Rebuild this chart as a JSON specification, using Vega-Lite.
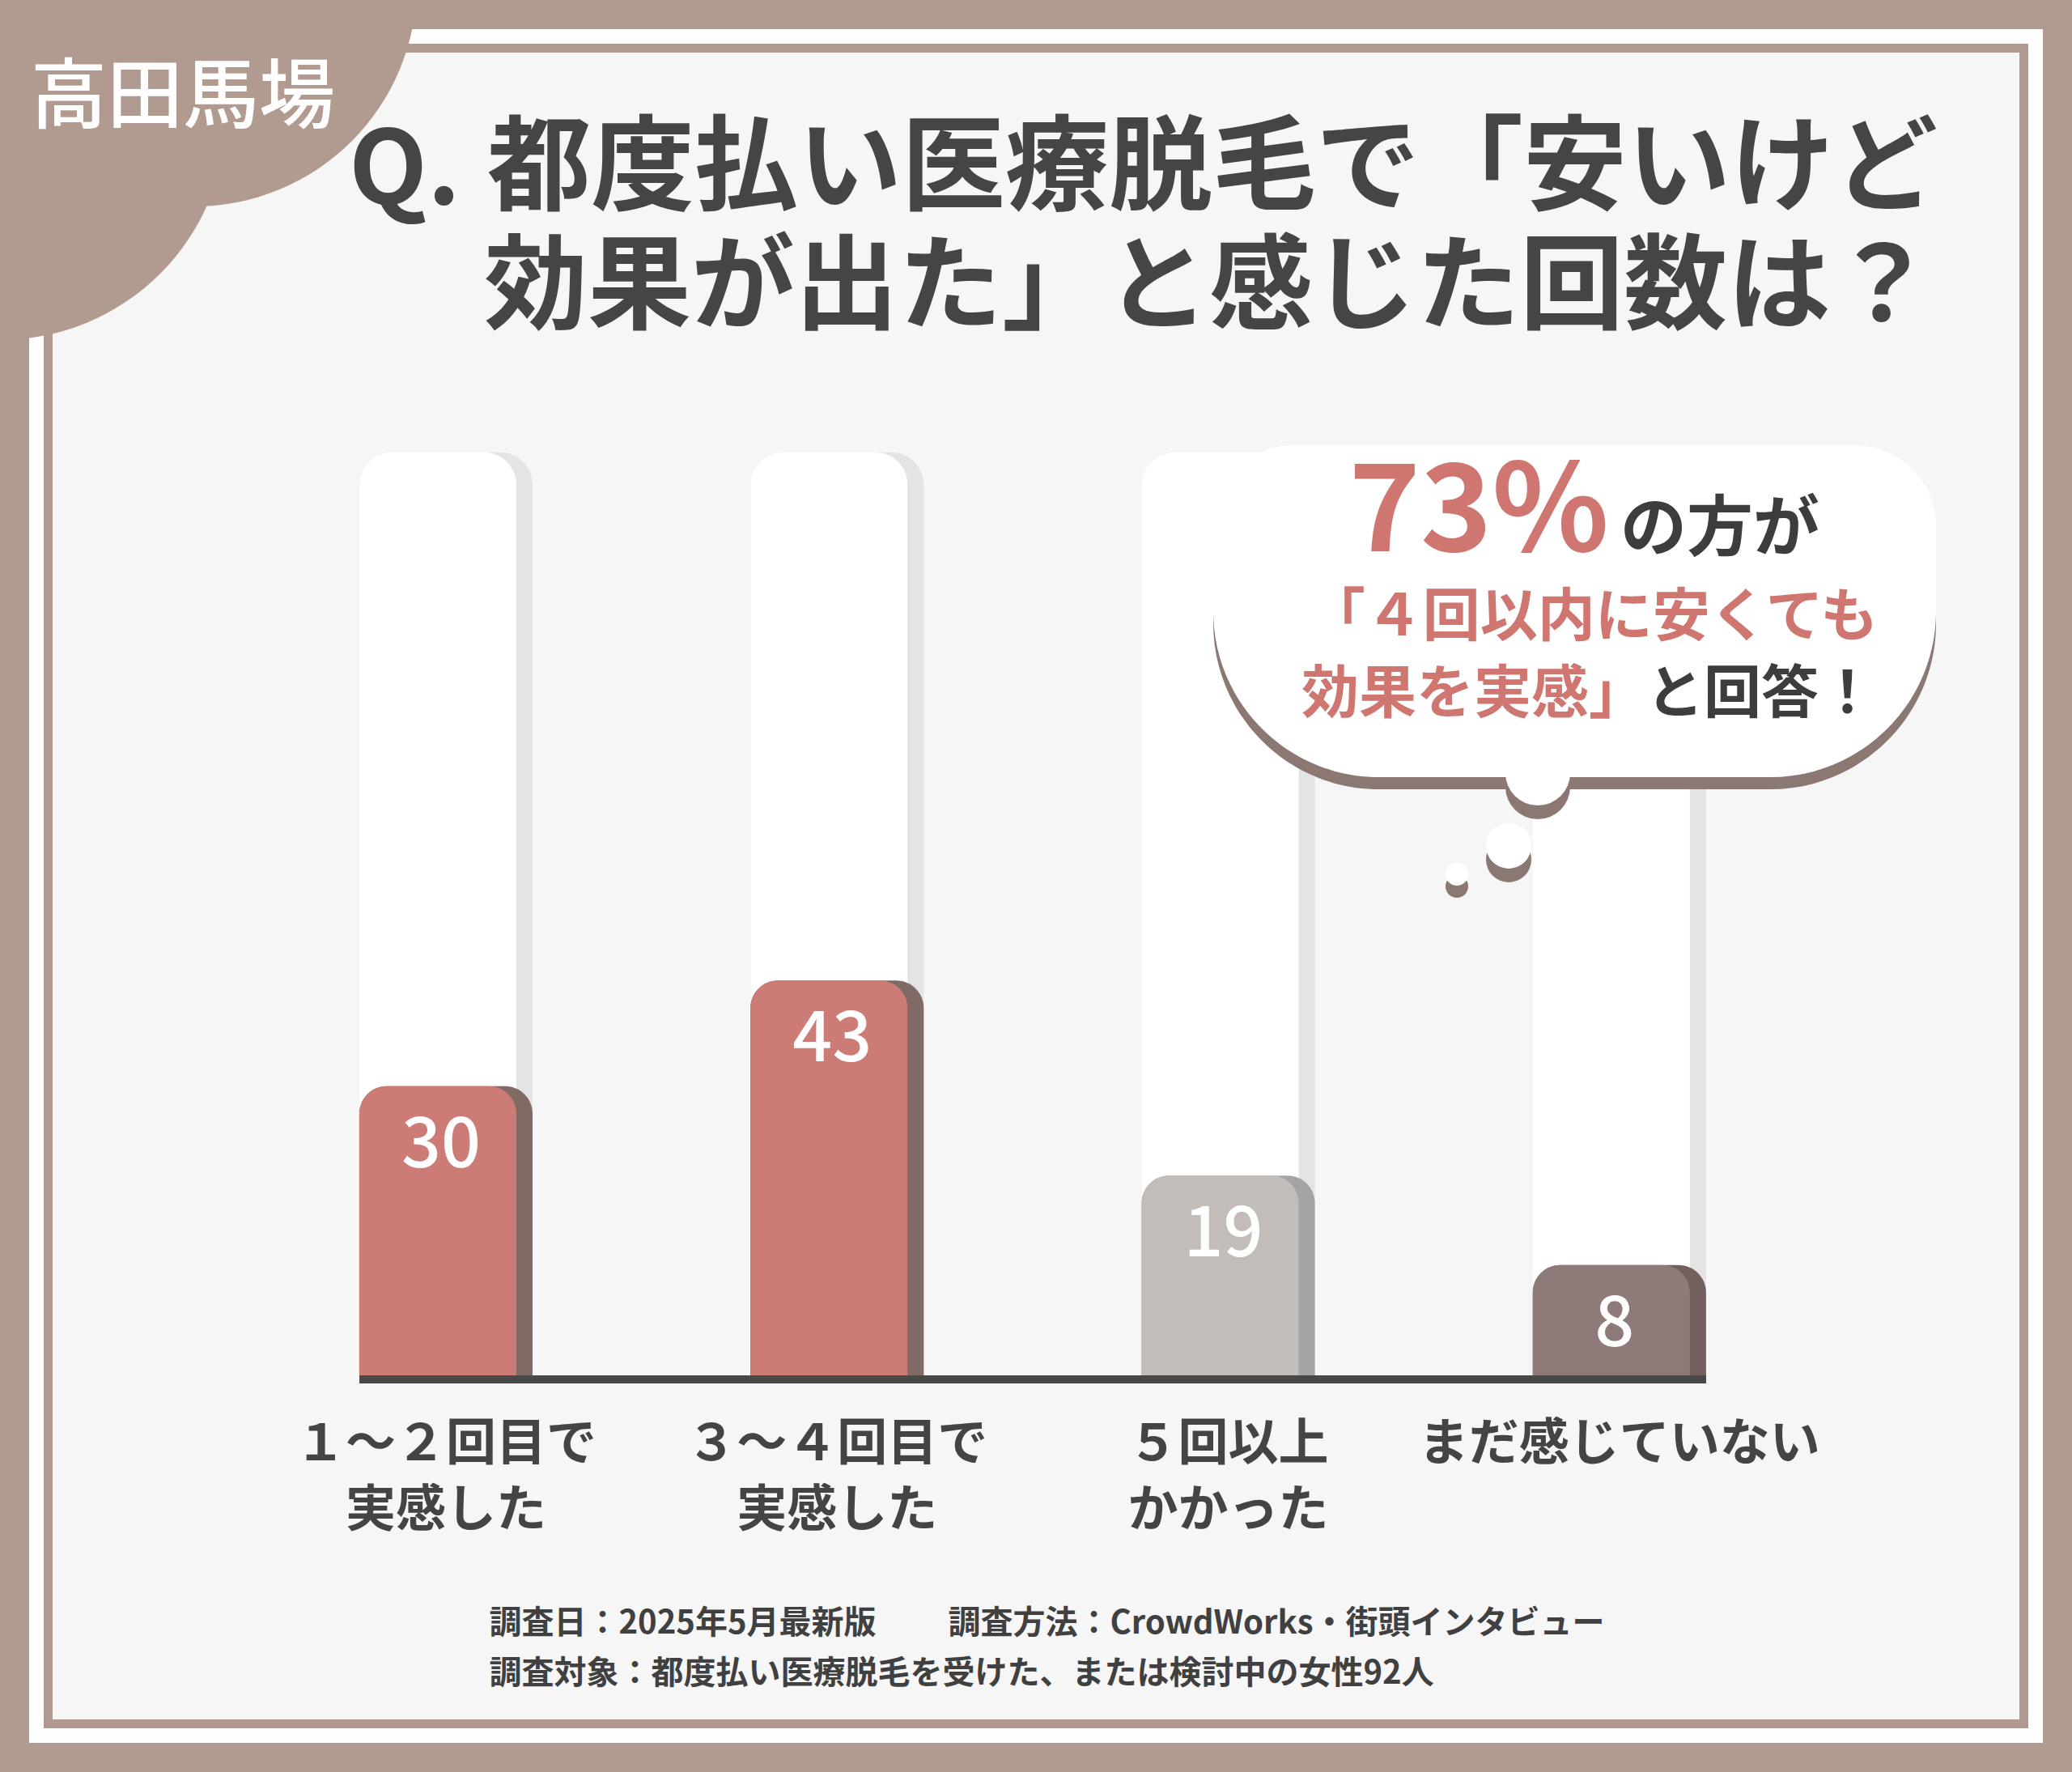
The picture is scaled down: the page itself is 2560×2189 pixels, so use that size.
{
  "$schema": "https://vega.github.io/schema/vega-lite/v6.json",
  "width": 2488,
  "height": 2117,
  "autosize": {"type": "none"},
  "padding": {"left": 36, "top": 36, "right": 36, "bottom": 36},
  "background": "#b19b90",
  "view": {"fill": "#ffffff", "stroke": null},
  "config": {"font": "Noto Sans CJK JP"},
  "data": {
    "values": [
      {"category": "１～２回目で 実感した", "count": 30, "group": "4回以内"},
      {"category": "３～４回目で 実感した", "count": 43, "group": "4回以内"},
      {"category": "５回以上 かかった", "count": 19, "group": "5回以上"},
      {"category": "まだ感じていない", "count": 8, "group": "未実感"}
    ]
  },
  "layer": [
    {
      "data": {"values": [{}]},
      "mark": {"type": "rect", "fill": "#f6f6f6", "stroke": "#b19b90", "strokeWidth": 11},
      "encoding": {
        "x": {"datum": 59.5, "type": "quantitative", "scale": {"domain": [36, 2524], "nice": false, "zero": false}, "axis": null},
        "x2": {"datum": 2500.5},
        "y": {"datum": 59.5, "type": "quantitative", "scale": {"domain": [36, 2153], "nice": false, "zero": false, "reverse": true}, "axis": null},
        "y2": {"datum": 2129.5}
      }
    },
    {
      "encoding": {
        "x": {
          "field": "category",
          "type": "nominal",
          "sort": null,
          "scale": {"paddingInner": 0.557, "paddingOuter": 0.8525, "align": 0.495},
          "axis": {
            "orient": "bottom",
            "zindex": 1,
            "offset": -441,
            "domain": false,
            "ticks": false,
            "tickSize": 0,
            "grid": false,
            "labelAngle": 0,
            "labelPadding": 42,
            "labelBaseline": "top",
            "labelLineHeight": 82,
            "labelFontSize": 62,
            "labelFontWeight": "bold",
            "labelColor": "#444444",
            "labelFont": "Noto Sans CJK JP",
            "labelLimit": 0,
            "labelOverlap": false,
            "labelExpr": "split(datum.label, ' ')",
            "title": ["調査日：2025年5月最新版　　 調査方法：CrowdWorks・街頭インタビュー", "調査対象：都度払い医療脱毛を受けた、または検討中の女性92人"],
            "titleX": 568,
            "titleY": 273,
            "titleAlign": "left",
            "titleAnchor": "start",
            "titleBaseline": "top",
            "titleFontSize": 40,
            "titleFontWeight": "bold",
            "titleColor": "#404040",
            "titleLineHeight": 62,
            "titleFont": "Noto Sans CJK JP",
            "titleLimit": 0
          }
        }
      },
      "layer": [
        {
          "mark": {"type": "bar", "fill": "#e4e4e4", "cornerRadiusTopLeft": 40, "cornerRadiusTopRight": 40},
          "encoding": {
            "y": {"datum": 108, "type": "quantitative", "scale": {"domain": [-50.8, 160.06], "nice": false, "zero": false}, "axis": null},
            "y2": {"datum": -5.7}
          }
        },
        {
          "mark": {"type": "bar", "fill": "#ffffff", "width": 194, "xOffset": -10, "cornerRadiusTopLeft": 40, "cornerRadiusTopRight": 40},
          "encoding": {
            "y": {"datum": 108, "type": "quantitative", "scale": {"domain": [-50.8, 160.06], "nice": false, "zero": false}, "axis": null},
            "y2": {"datum": -5.7}
          }
        },
        {
          "mark": {"type": "bar", "cornerRadiusTopLeft": 34, "cornerRadiusTopRight": 34},
          "encoding": {
            "y": {"field": "count", "type": "quantitative", "stack": null, "scale": {"domain": [-50.8, 160.06], "nice": false, "zero": false}, "axis": null},
            "y2": {"datum": -5.7},
            "fill": {"field": "group", "type": "nominal", "scale": {"domain": ["4回以内", "5回以上", "未実感"], "range": ["#7f6a66", "#a4a4a4", "#735f5b"]}, "legend": null}
          }
        },
        {
          "mark": {"type": "bar", "width": 194, "xOffset": -10, "cornerRadiusTopLeft": 34, "cornerRadiusTopRight": 34},
          "encoding": {
            "y": {"field": "count", "type": "quantitative", "stack": null, "scale": {"domain": [-50.8, 160.06], "nice": false, "zero": false}, "axis": null},
            "y2": {"datum": -5.7},
            "color": {"field": "group", "type": "nominal", "scale": {"domain": ["4回以内", "5回以上", "未実感"], "range": ["#cd7b77", "#c3bdba", "#8e7b79"]}, "legend": null}
          }
        },
        {
          "mark": {"type": "text", "dy": 74, "baseline": "middle", "align": "center", "xOffset": -6, "fontSize": 86, "fontWeight": 500, "fill": "#ffffff", "font": "Noto Sans CJK JP"},
          "encoding": {
            "y": {"field": "count", "type": "quantitative", "stack": null, "scale": {"domain": [-50.8, 160.06], "nice": false, "zero": false}, "axis": null},
            "text": {"field": "count", "type": "quantitative"}
          }
        }
      ]
    },
    {
      "data": {"values": [{}]},
      "layer": [
        {
          "mark": {"type": "point", "shape": "circle", "filled": true, "fill": "#b19b90", "opacity": 1, "strokeWidth": 0, "size": 302500},
          "encoding": {
            "x": {"datum": 240, "type": "quantitative", "scale": {"domain": [36, 2524], "nice": false, "zero": false}, "axis": null},
            "y": {"datum": -20, "type": "quantitative", "scale": {"domain": [36, 2153], "nice": false, "zero": false, "reverse": true}, "axis": null}
          }
        },
        {
          "mark": {"type": "point", "shape": "circle", "filled": true, "fill": "#b19b90", "opacity": 1, "strokeWidth": 0, "size": 313600},
          "encoding": {
            "x": {"datum": 0, "type": "quantitative", "scale": {"domain": [36, 2524], "nice": false, "zero": false}, "axis": null},
            "y": {"datum": 140, "type": "quantitative", "scale": {"domain": [36, 2153], "nice": false, "zero": false, "reverse": true}, "axis": null}
          }
        },
        {
          "mark": {"type": "rect", "fill": "#8c7873", "cornerRadiusTopLeft": 100, "cornerRadiusTopRight": 100, "cornerRadiusBottomLeft": 270, "cornerRadiusBottomRight": 270},
          "encoding": {
            "x": {"datum": 1499, "type": "quantitative", "scale": {"domain": [36, 2524], "nice": false, "zero": false}, "axis": null},
            "x2": {"datum": 2392},
            "y": {"datum": 565, "type": "quantitative", "scale": {"domain": [36, 2153], "nice": false, "zero": false, "reverse": true}, "axis": null},
            "y2": {"datum": 975}
          }
        },
        {
          "mark": {"type": "point", "shape": "circle", "filled": true, "fill": "#8c7873", "opacity": 1, "strokeWidth": 0, "size": 6400},
          "encoding": {
            "x": {"datum": 1900, "type": "quantitative", "scale": {"domain": [36, 2524], "nice": false, "zero": false}, "axis": null},
            "y": {"datum": 972, "type": "quantitative", "scale": {"domain": [36, 2153], "nice": false, "zero": false, "reverse": true}, "axis": null}
          }
        },
        {
          "mark": {"type": "point", "shape": "circle", "filled": true, "fill": "#8c7873", "opacity": 1, "strokeWidth": 0, "size": 3136},
          "encoding": {
            "x": {"datum": 1864, "type": "quantitative", "scale": {"domain": [36, 2524], "nice": false, "zero": false}, "axis": null},
            "y": {"datum": 1062, "type": "quantitative", "scale": {"domain": [36, 2153], "nice": false, "zero": false, "reverse": true}, "axis": null}
          }
        },
        {
          "mark": {"type": "point", "shape": "circle", "filled": true, "fill": "#8c7873", "opacity": 1, "strokeWidth": 0, "size": 784},
          "encoding": {
            "x": {"datum": 1800, "type": "quantitative", "scale": {"domain": [36, 2524], "nice": false, "zero": false}, "axis": null},
            "y": {"datum": 1095, "type": "quantitative", "scale": {"domain": [36, 2153], "nice": false, "zero": false, "reverse": true}, "axis": null}
          }
        },
        {
          "mark": {"type": "rect", "fill": "#ffffff", "cornerRadiusTopLeft": 100, "cornerRadiusTopRight": 100, "cornerRadiusBottomLeft": 270, "cornerRadiusBottomRight": 270},
          "encoding": {
            "x": {"datum": 1499, "type": "quantitative", "scale": {"domain": [36, 2524], "nice": false, "zero": false}, "axis": null},
            "x2": {"datum": 2392},
            "y": {"datum": 550, "type": "quantitative", "scale": {"domain": [36, 2153], "nice": false, "zero": false, "reverse": true}, "axis": null},
            "y2": {"datum": 960}
          }
        },
        {
          "mark": {"type": "point", "shape": "circle", "filled": true, "fill": "#ffffff", "opacity": 1, "strokeWidth": 0, "size": 6400},
          "encoding": {
            "x": {"datum": 1900, "type": "quantitative", "scale": {"domain": [36, 2524], "nice": false, "zero": false}, "axis": null},
            "y": {"datum": 955, "type": "quantitative", "scale": {"domain": [36, 2153], "nice": false, "zero": false, "reverse": true}, "axis": null}
          }
        },
        {
          "mark": {"type": "point", "shape": "circle", "filled": true, "fill": "#ffffff", "opacity": 1, "strokeWidth": 0, "size": 3136},
          "encoding": {
            "x": {"datum": 1864, "type": "quantitative", "scale": {"domain": [36, 2524], "nice": false, "zero": false}, "axis": null},
            "y": {"datum": 1045, "type": "quantitative", "scale": {"domain": [36, 2153], "nice": false, "zero": false, "reverse": true}, "axis": null}
          }
        },
        {
          "mark": {"type": "point", "shape": "circle", "filled": true, "fill": "#ffffff", "opacity": 1, "strokeWidth": 0, "size": 784},
          "encoding": {
            "x": {"datum": 1800, "type": "quantitative", "scale": {"domain": [36, 2524], "nice": false, "zero": false}, "axis": null},
            "y": {"datum": 1080, "type": "quantitative", "scale": {"domain": [36, 2153], "nice": false, "zero": false, "reverse": true}, "axis": null}
          }
        },
        {
          "mark": {"type": "rect", "fill": "#484848"},
          "encoding": {
            "x": {"datum": 444, "type": "quantitative", "scale": {"domain": [36, 2524], "nice": false, "zero": false}, "axis": null},
            "x2": {"datum": 2108},
            "y": {"datum": 1699, "type": "quantitative", "scale": {"domain": [36, 2153], "nice": false, "zero": false, "reverse": true}, "axis": null},
            "y2": {"datum": 1709}
          }
        },
        {
          "mark": {"type": "text", "text": "高田馬場", "align": "center", "baseline": "alphabetic", "fontSize": 94, "fontWeight": 500, "fill": "#ffffff", "font": "Noto Sans CJK JP"},
          "encoding": {
            "x": {"datum": 226, "type": "quantitative", "scale": {"domain": [36, 2524], "nice": false, "zero": false}, "axis": null},
            "y": {"datum": 151, "type": "quantitative", "scale": {"domain": [36, 2153], "nice": false, "zero": false, "reverse": true}, "axis": null}
          }
        },
        {
          "mark": {"type": "text", "text": "Q.", "align": "left", "baseline": "alphabetic", "fontSize": 126, "fontWeight": "bold", "fill": "#454545", "font": "Noto Sans CJK JP"},
          "encoding": {
            "x": {"datum": 431, "type": "quantitative", "scale": {"domain": [36, 2524], "nice": false, "zero": false}, "axis": null},
            "y": {"datum": 252, "type": "quantitative", "scale": {"domain": [36, 2153], "nice": false, "zero": false, "reverse": true}, "axis": null}
          }
        },
        {
          "mark": {"type": "text", "text": "都度払い医療脱毛で「安いけど", "align": "left", "baseline": "alphabetic", "fontSize": 128, "fontWeight": "bold", "fill": "#454545", "font": "Noto Sans CJK JP"},
          "encoding": {
            "x": {"datum": 602, "type": "quantitative", "scale": {"domain": [36, 2524], "nice": false, "zero": false}, "axis": null},
            "y": {"datum": 250, "type": "quantitative", "scale": {"domain": [36, 2153], "nice": false, "zero": false, "reverse": true}, "axis": null}
          }
        },
        {
          "mark": {"type": "text", "text": "効果が出た」と感じた回数は？", "align": "left", "baseline": "alphabetic", "fontSize": 128, "fontWeight": "bold", "fill": "#454545", "font": "Noto Sans CJK JP"},
          "encoding": {
            "x": {"datum": 598, "type": "quantitative", "scale": {"domain": [36, 2524], "nice": false, "zero": false}, "axis": null},
            "y": {"datum": 397, "type": "quantitative", "scale": {"domain": [36, 2153], "nice": false, "zero": false, "reverse": true}, "axis": null}
          }
        },
        {
          "mark": {"type": "text", "text": "73%", "align": "right", "baseline": "alphabetic", "fontSize": 150, "fontWeight": "bold", "fill": "#cf7671", "font": "Noto Sans CJK JP"},
          "encoding": {
            "x": {"datum": 1988, "type": "quantitative", "scale": {"domain": [36, 2524], "nice": false, "zero": false}, "axis": null},
            "y": {"datum": 681, "type": "quantitative", "scale": {"domain": [36, 2153], "nice": false, "zero": false, "reverse": true}, "axis": null}
          }
        },
        {
          "mark": {"type": "text", "text": "の方が", "align": "left", "baseline": "alphabetic", "fontSize": 82, "fontWeight": "bold", "fill": "#3d3d3d", "font": "Noto Sans CJK JP"},
          "encoding": {
            "x": {"datum": 2002, "type": "quantitative", "scale": {"domain": [36, 2524], "nice": false, "zero": false}, "axis": null},
            "y": {"datum": 680, "type": "quantitative", "scale": {"domain": [36, 2153], "nice": false, "zero": false, "reverse": true}, "axis": null}
          }
        },
        {
          "mark": {"type": "text", "text": "「４回以内に安くても", "align": "center", "baseline": "alphabetic", "fontSize": 71, "fontWeight": "bold", "fill": "#cf7671", "font": "Noto Sans CJK JP"},
          "encoding": {
            "x": {"datum": 1968, "type": "quantitative", "scale": {"domain": [36, 2524], "nice": false, "zero": false}, "axis": null},
            "y": {"datum": 785, "type": "quantitative", "scale": {"domain": [36, 2153], "nice": false, "zero": false, "reverse": true}, "axis": null}
          }
        },
        {
          "mark": {"type": "text", "text": "効果を実感」", "align": "right", "baseline": "alphabetic", "fontSize": 71, "fontWeight": "bold", "fill": "#cf7671", "font": "Noto Sans CJK JP"},
          "encoding": {
            "x": {"datum": 2034, "type": "quantitative", "scale": {"domain": [36, 2524], "nice": false, "zero": false}, "axis": null},
            "y": {"datum": 880, "type": "quantitative", "scale": {"domain": [36, 2153], "nice": false, "zero": false, "reverse": true}, "axis": null}
          }
        },
        {
          "mark": {"type": "text", "text": "と回答！", "align": "left", "baseline": "alphabetic", "fontSize": 71, "fontWeight": "bold", "fill": "#3d3d3d", "font": "Noto Sans CJK JP"},
          "encoding": {
            "x": {"datum": 2034, "type": "quantitative", "scale": {"domain": [36, 2524], "nice": false, "zero": false}, "axis": null},
            "y": {"datum": 880, "type": "quantitative", "scale": {"domain": [36, 2153], "nice": false, "zero": false, "reverse": true}, "axis": null}
          }
        }
      ]
    }
  ],
  "resolve": {"scale": {"x": "independent", "y": "independent"}}
}
